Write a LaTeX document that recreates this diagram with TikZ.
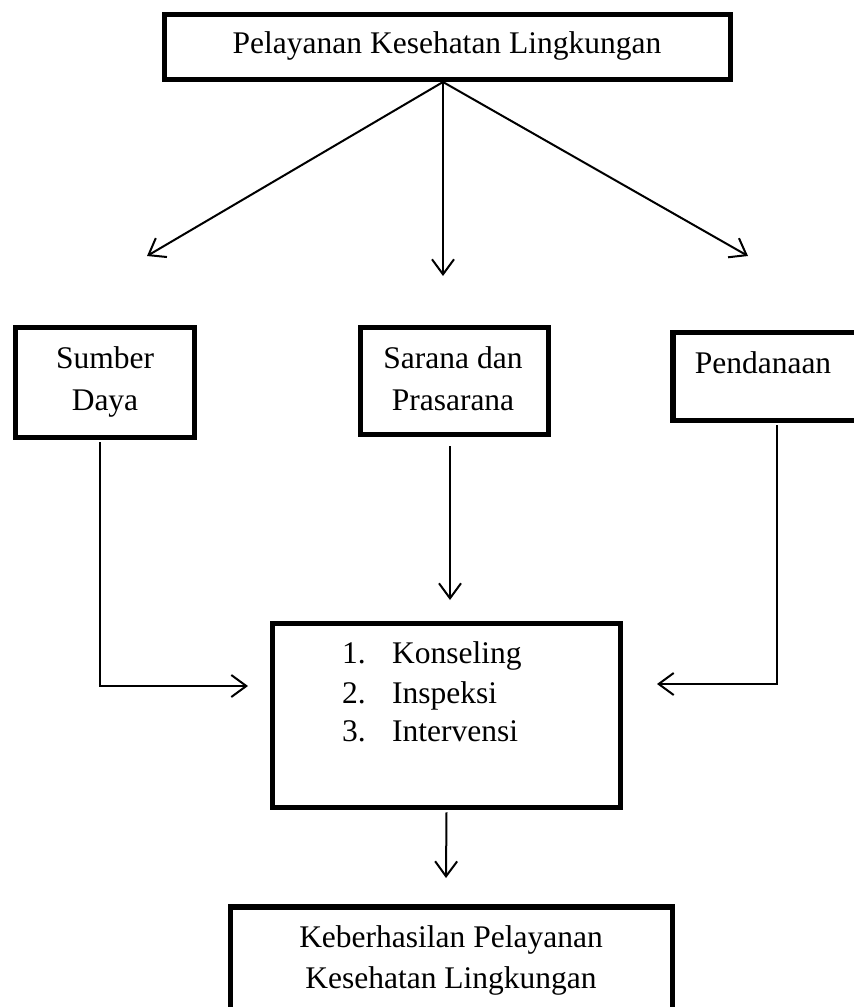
\documentclass[tikz,border=0pt]{standalone}
\usepackage{fontspec}
\setmainfont{Liberation Serif}
\usetikzlibrary{arrows.meta}
\begin{document}
\begin{tikzpicture}[x=1pt,y=-1pt,
  box/.style={draw, line width=5.5pt, rectangle, inner sep=0pt},
  lbl/.style={font=\fontsize{31.5}{42}\selectfont, inner sep=0pt, anchor=base},
  conn/.style={line width=2pt, -{Straight Barb[length=15pt,width=22pt,line width=2pt]}},
]
\useasboundingbox[fill=white] (0,0) rectangle (854,1007);
\clip (0,0) rectangle (854,1007);

% boxes
\node[box, minimum width=566pt, minimum height=65pt] (top) at (447.5,47) {};
\node[box, minimum width=179pt, minimum height=110pt] (sumber) at (105,382.5) {};
\node[box, minimum width=188pt, minimum height=107pt] (sarana) at (454.5,381) {};
\node[box, minimum width=227pt, minimum height=88pt] (pend) at (786.5,376.5) {};
\node[box, minimum width=348pt, minimum height=184pt] (mid) at (446.5,715.5) {};
\node[box, minimum width=442pt, minimum height=153pt] (bot) at (451.5,983.5) {};

% texts
\node[lbl] (ttop) at (447,53) {Pelayanan Kesehatan Lingkungan};
\node[lbl] (ts1) at (105,368) {Sumber};
\node[lbl] (ts2) at (105,410) {Daya};
\node[lbl] (tr1) at (453,368) {Sarana dan};
\node[lbl] (tr2) at (453,410) {Prasarana};
\node[lbl] (tp) at (763,373) {Pendanaan};
\node[lbl, anchor=base west] (n1) at (342,663) {1.};
\node[lbl, anchor=base west] (l1) at (392,663) {Konseling};
\node[lbl, anchor=base west] (n2) at (342,703) {2.};
\node[lbl, anchor=base west] (l2) at (392,703) {Inspeksi};
\node[lbl, anchor=base west] (n3) at (342,741) {3.};
\node[lbl, anchor=base west] (l3) at (392,741) {Intervensi};
\node[lbl] (tb1) at (451,947) {Keberhasilan Pelayanan};
\node[lbl] (tb2) at (451,988) {Kesehatan Lingkungan};

% free ends
\coordinate (tipA) at (147,256);
\coordinate (tipB) at (443,276);
\coordinate (tipC) at (748,256);
\coordinate (tipL) at (248,686);
\coordinate (tipR) at (657,684);
\coordinate (tipS) at (450,600);
\coordinate (tipM) at (446,878);
\coordinate (orig) at (443,82);

% connectors
\draw[conn] (orig) -- (tipA);
\draw[conn] (orig) -- (tipB);
\draw[conn] (orig) -- (tipC);
\draw[conn] ([xshift=-5pt,yshift=-2pt]sumber.south) |- (tipL);
\draw[conn] ([xshift=-9.5pt,yshift=-2pt]pend.south) |- (tipR);
\draw[conn] ([xshift=-4.5pt,yshift=-9pt]sarana.south) -- (tipS);
\draw[conn] ([yshift=-2pt]mid.south) -- (tipM);
\end{tikzpicture}
\end{document}
